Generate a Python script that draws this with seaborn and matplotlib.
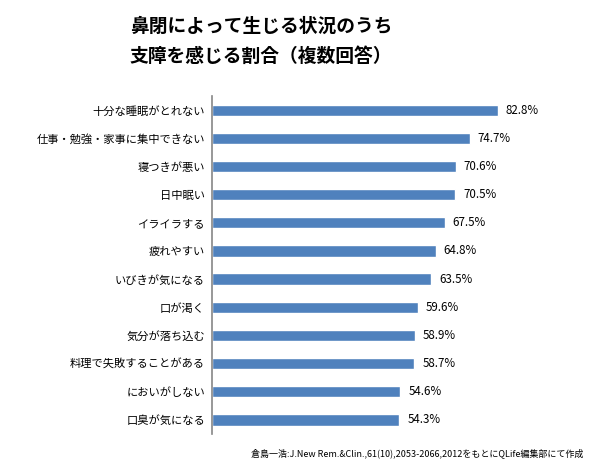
import matplotlib
matplotlib.use("Agg")
import matplotlib.pyplot as plt
import seaborn as sns
import pandas as pd

categories = ["十分な睡眠がとれない", "仕事・勉強・家事に集中できない", "寝つきが悪い", "日中眠い",
              "イライラする", "疲れやすい", "いびきが気になる", "口が渇く", "気分が落ち込む",
              "料理で失敗することがある", "においがしない", "口臭が気になる"]
values = [82.8, 74.7, 70.6, 70.5, 67.5, 64.8, 63.5, 59.6, 58.9, 58.7, 54.6, 54.3]
title_lines = ["鼻閉によって生じる状況のうち", "支障を感じる割合（複数回答）"]
source = "倉島一浩:J.New Rem.&Clin.,61(10),2053-2066,2012をもとにQLife編集部にて作成"

sns.set_theme(style="white")
plt.rcParams['font.family'] = ['Noto Sans CJK JP', 'DejaVu Sans']

df = pd.DataFrame({"cat": categories, "val": values})

fig = plt.figure(figsize=(6, 4.7), dpi=100)
ax = fig.add_axes([0.3533, 0.0766, 0.575, 0.719])
sns.barplot(data=df, y="cat", x="val", orient="h", color="#4F81BD", saturation=1,
            width=0.4, ax=ax)
ax.set_xlim(0, 100)
ax.set_ylim(len(categories) - 0.5, -0.5)
ax.set_xlabel("")
ax.set_ylabel("")
ax.set_xticks([])
for s in ["top", "right", "bottom"]:
    ax.spines[s].set_visible(False)
ax.spines["left"].set_color("#868686")
ax.spines["left"].set_linewidth(1.2)
ax.tick_params(axis="y", length=0, pad=5, labelsize=8.1, colors="black")

for i, v in enumerate(values):
    ax.text(v + 2.3, i, f"{v:.1f}%", va="center", ha="left", fontsize=8.3, color="black")

fig.text(261 / 600, 1 - 26 / 470, title_lines[0], ha="center", va="center",
         fontsize=13.5, fontweight="bold", color="black")
fig.text(261 / 600, 1 - 56 / 470, title_lines[1], ha="center", va="center",
         fontsize=13.5, fontweight="bold", color="black")
fig.text(583 / 600, 1 - 453 / 470, source, ha="right", va="center", fontsize=6.5,
         color="black")

fig.savefig("out.png", dpi=100)
